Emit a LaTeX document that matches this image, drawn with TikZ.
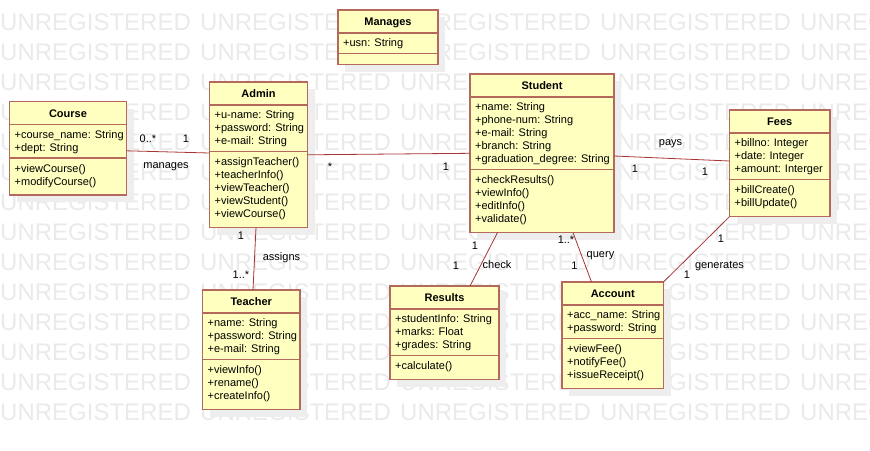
\documentclass[tikz,border=0pt]{standalone}
\usepackage{fontspec}
\setmainfont{Liberation Sans}
\usepackage{xcolor}
\usepackage{tikz}
\usetikzlibrary{shadows}

\definecolor{clsfill}{RGB}{255,255,192}
\definecolor{clsborder}{RGB}{181,104,92}
\definecolor{assocline}{RGB}{168,52,52}
\definecolor{wmgray}{RGB}{234,234,234}
\definecolor{shadowgray}{RGB}{238,238,238}

% #1 name, #2 top left, #3 width, #4 no. of attributes, #5 no. of operations,
% #6 title, #7 attributes, #8 operations
\newcommand{\umlclass}[8]{%
  \pgfmathsetmacro\clsdiv{23+13*#4+7.6}
  \pgfmathsetmacro\clsht{23+13*(#4+#5)+18.6}
  \node[cls, minimum width=#3, minimum height=\clsht] (#1) at (#2) {};
  \draw[clsrule] ([yshift=-23pt]#1.north west) -- ([yshift=-23pt]#1.north east);
  \draw[clsrule] ([yshift=-\clsdiv pt]#1.north west) -- ([yshift=-\clsdiv pt]#1.north east);
  \node[clstitle] (#1-t) at ([yshift=-11.5pt]#1.north) {#6};
  \node[clstext] (#1-a) at ([shift={(5pt,-28.8pt)}]#1.north west) {#7};
  \node[clstext] (#1-o) at ([shift={(5pt,-\clsdiv pt-5.8pt)}]#1.north west) {#8};
}

\begin{document}
\begin{tikzpicture}[x=1pt, y=-1pt]
\tikzstyle{cls}=[draw=clsborder, fill=clsfill, line width=1.6pt, inner sep=0pt, outer sep=0pt,
  anchor=north west, drop shadow={shadow xshift=7pt, shadow yshift=-7pt, fill=shadowgray, opacity=1}]
\tikzstyle{clsrule}=[draw=clsborder, line width=1.6pt]
\tikzstyle{clstitle}=[font=\fontsize{11}{13}\selectfont\bfseries, inner sep=0pt, text height=8pt, text depth=0pt]
\tikzstyle{clstext}=[font=\fontsize{11}{13}\selectfont, inner sep=0pt, anchor=north west, align=left]
\tikzstyle{assoc}=[draw=assocline, line width=0.8pt]
\tikzstyle{lbl}=[font=\fontsize{11}{13}\selectfont, inner sep=0pt, text height=8pt, text depth=0pt]
\tikzstyle{wmark}=[font=\fontsize{24}{24}\selectfont, text=wmgray, inner sep=0pt, anchor=base west]

\useasboundingbox (0,0) rectangle (870,450);
\clip (0,0) rectangle (870,450);

% watermark
\foreach \r in {0,...,13}
  \foreach \c in {0,...,4}
    \node[wmark] (wm-\r-\c) at (200*\c, 30.5+30*\r) {UNREGISTERED};

% classes
\umlclass{manages}{338,10}{100}{1}{0}{Manages}{+usn: String}{}
\umlclass{course}{9.5,101.5}{117}{2}{2}{Course}{+course\_name: String\\+dept: String}{+viewCourse()\\+modifyCourse()}
\umlclass{admin}{209.5,82}{98}{3}{5}{Admin}{+u-name: String\\+password: String\\+e-mail: String}{+assignTeacher()\\+teacherInfo()\\+viewTeacher()\\+viewStudent()\\+viewCourse()}
\umlclass{student}{470,74}{144}{5}{4}{Student}{+name: String\\+phone-num: String\\+e-mail: String\\+branch: String\\+graduation\_degree: String}{+checkResults()\\+viewInfo()\\+editInfo()\\+validate()}
\umlclass{fees}{729.5,110}{100.5}{3}{2}{Fees}{+billno: Integer\\+date: Integer\\+amount: Interger}{+billCreate()\\+billUpdate()}
\umlclass{teacher}{202.5,290}{97.5}{3}{3}{Teacher}{+name: String\\+password: String\\+e-mail: String}{+viewInfo()\\+rename()\\+createInfo()}
\umlclass{results}{390,286}{109}{3}{1}{Results}{+studentInfo: String\\+marks: Float\\+grades: String}{+calculate()}
\umlclass{account}{562,282}{101.5}{2}{3}{Account}{+acc\_name: String\\+password: String}{+viewFee()\\+notifyFee()\\+issueReceipt()}

% associations
\draw[assoc] ([yshift=-2.5pt]course.east) -- ([yshift=1.8pt]admin.west);
\draw[assoc] (admin.east) -- (student.west);
\draw[assoc] ([yshift=-2.7pt]student.east) -- ([yshift=2.3pt]fees.west);
\draw[assoc] ([xshift=-2.5pt]admin.south) -- ([xshift=1.75pt]teacher.north);
\draw[assoc] ([xshift=-44.5pt]student.south) -- ([xshift=25.5pt]results.north);
\draw[assoc] ([xshift=31pt]student.south) -- ([xshift=-21.25pt]account.north);
\draw[assoc] (fees.south west) -- (account.north east);

% multiplicities and names
\node[lbl] (cm-1) at (148,138) {0..*};
\node[lbl] (cm-2) at (186,138) {1};
\node[lbl] (cm-n) at (166,164) {manages};
\node[lbl] (as-1) at (330,166) {*};
\node[lbl] (as-2) at (446,166) {1};
\node[lbl] (sf-n) at (670.5,141) {pays};
\node[lbl] (sf-1) at (635,168.5) {1};
\node[lbl] (sf-2) at (705,171) {1};
\node[lbl] (at-1) at (241,235) {1};
\node[lbl] (at-n) at (281.5,256) {assigns};
\node[lbl] (at-2) at (241,274) {1..*};
\node[lbl] (sr-1) at (475,245) {1};
\node[lbl] (sr-2) at (456,265) {1};
\node[lbl] (sr-n) at (497,264) {check};
\node[lbl] (sa-1) at (566,239) {1..*};
\node[lbl] (sa-n) at (600.5,253) {query};
\node[lbl] (sa-2) at (574.5,265.5) {1};
\node[lbl] (fa-1) at (721,238) {1};
\node[lbl] (fa-n) at (719.5,264) {generates};
\node[lbl] (fa-2) at (687,274) {1};
\end{tikzpicture}
\end{document}
